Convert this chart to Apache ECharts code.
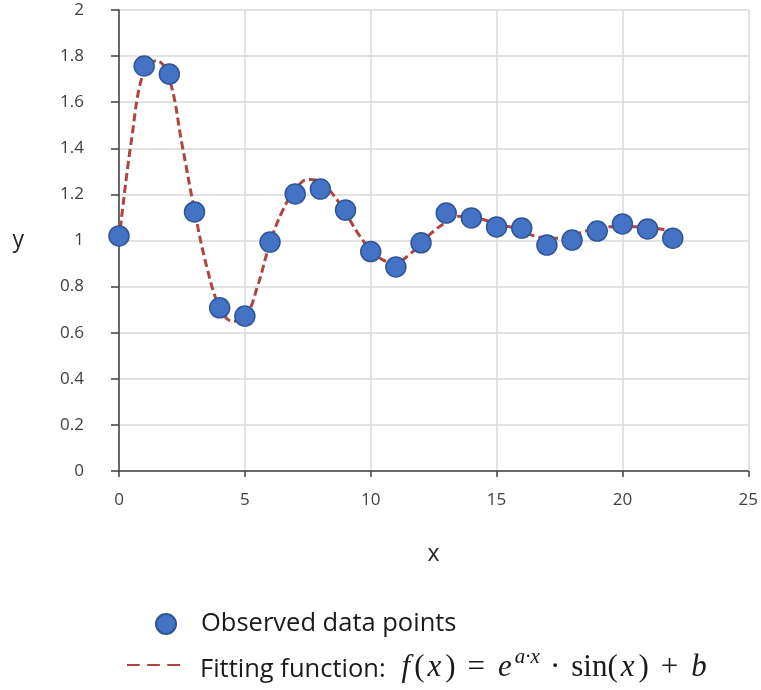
<!DOCTYPE html>
<html>
<head>
<meta charset="utf-8">
<script src="https://cdn.jsdelivr.net/npm/echarts@6/dist/echarts.min.js"></script>
<style>
html,body{margin:0;padding:0;background:#fff;}
#chart{width:761px;height:690px;}
</style>
</head>
<body>
<div id="chart"></div>
<script>
// Observed data points
const obsX = [0,1,2,3,4,5,6,7,8,9,10,11,12,13,14,15,16,17,18,19,20,21,22];
const obsY = [1.02,1.757,1.722,1.124,0.708,0.672,0.993,1.202,1.223,1.132,0.952,0.885,0.99,1.119,1.098,1.059,1.054,0.98,1.002,1.041,1.072,1.05,1.01];
// Fitting curve
const fitX = [0,0.5,1,1.5,2,2.5,3,3.5,4,4.5,5,5.5,6,6.5,7,7.5,8,8.5,9,9.5,10,10.5,11,11.5,12,12.5,13,13.5,14,14.5,15,15.5,16,16.5,17,17.5,18,18.5,19,19.5,20,20.5,21,21.5,22];
const fitY = [1.0,1.44,1.74,1.78,1.70,1.42,1.13,0.88,0.71,0.65,0.665,0.80,0.99,1.13,1.22,1.265,1.255,1.20,1.12,1.03,0.96,0.915,0.905,0.935,0.99,1.04,1.08,1.105,1.10,1.09,1.07,1.06,1.04,1.02,1.01,1.01,1.02,1.04,1.05,1.06,1.06,1.06,1.055,1.05,1.04];
// Axis ticks
const xTickMin = 0, xTickMax = 25, xTickStep = 5;
const yTickMin = 0, yTickMax = 2, yTickStep = 0.2;

const obsName = 'Observed data points';
const fitName = 'Fitting function';

const chart = echarts.init(document.getElementById('chart'));
const sans = '"Open Sans", "Liberation Sans", sans-serif';
const serif = '"Liberation Serif", "DejaVu Serif", serif';
const axisColor = '#404040';
const gridColor = '#d9d9d9';
const txt = '#1a1a1a';
const fs = 31;

function tok(extra) {
  return Object.assign({fontFamily: serif, fontSize: fs, color: txt, verticalAlign: 'bottom', lineHeight: 36}, extra);
}

chart.setOption({
  animation: false,
  backgroundColor: '#ffffff',
  grid: {left: 119, right: 12, top: 10, bottom: 219, containLabel: false},
  xAxis: {
    type: 'value', min: xTickMin, max: xTickMax, interval: xTickStep,
    name: 'x', nameLocation: 'middle', nameGap: 72,
    nameTextStyle: {fontFamily: sans, fontSize: 23, color: '#262626'},
    axisLine: {show: true, onZero: false, lineStyle: {color: axisColor, width: 1.5}},
    axisTick: {show: true, length: 6, lineStyle: {color: axisColor, width: 1.5}},
    axisLabel: {fontFamily: sans, fontSize: 17, color: '#404040', margin: 21},
    splitLine: {show: true, lineStyle: {color: gridColor, width: 1.5}}
  },
  yAxis: {
    type: 'value', min: yTickMin, max: yTickMax, interval: yTickStep,
    name: 'y', nameLocation: 'middle', nameGap: 95, nameRotate: 0,
    nameTextStyle: {fontFamily: sans, fontSize: 23, color: '#262626'},
    axisLine: {show: true, onZero: false, lineStyle: {color: axisColor, width: 1.5}},
    axisTick: {show: true, length: 8, lineStyle: {color: axisColor, width: 1.5}},
    axisLabel: {fontFamily: sans, fontSize: 17, color: '#404040', margin: 35,
      formatter: v => String(Math.round(v * 10) / 10)},
    splitLine: {show: true, lineStyle: {color: gridColor, width: 1.5}}
  },
  legend: [
    {
      data: [{name: obsName, icon: 'circle'}],
      left: 155, top: 611, padding: 0, itemWidth: 20, itemHeight: 20, itemGap: 0,
      textStyle: {fontFamily: sans, fontSize: 25.5, color: txt, padding: [0,0,0,20]},
      selectedMode: false
    },
    {
      data: [{name: fitName, icon: 'path://M0,0h12v2h-12zM19,0h12v2h-12zM38,0h12v2h-12z'}],
      left: 127, top: 647, padding: 0, itemWidth: 53, itemHeight: 3, itemGap: 0,
      selectedMode: false,
      formatter: function () {
        return '{t|Fitting function:}{f|f}{r|(}{x|x}{r|)}{eq|=}{e|e}{s|a·x}{d|·}{sin|sin}{r|(}{x|x}{r|)}{pl|+}{b|b}';
      },
      textStyle: {
        padding: [0,0,0,15],
        rich: {
          t: {fontFamily: sans, fontSize: 25.5, color: txt, verticalAlign: 'bottom', lineHeight: 36, padding: [0,14,0,0]},
          f: tok({fontStyle: 'italic', padding: [0,4,0,2]}),
          x: tok({fontStyle: 'italic', padding: [0,4,0,3]}),
          r: tok({}),
          eq: tok({padding: [0,13,0,12]}),
          e: tok({fontStyle: 'italic'}),
          s: {fontFamily: serif, fontStyle: 'italic', fontSize: 21, color: txt, verticalAlign: 'top', lineHeight: 18, padding: [0,10,0,3]},
          d: tok({padding: [0,11,0,0]}),
          sin: tok({}),
          pl: tok({padding: [0,13,0,12]}),
          b: tok({fontStyle: 'italic'})
        }
      }
    }
  ],
  series: [
    {
      name: fitName, type: 'line', smooth: 0.4, showSymbol: false, symbol: 'none',
      data: fitX.map((x, i) => [x, fitY[i]]),
      lineStyle: {color: '#b0443f', width: 3, type: [8, 4]},
      itemStyle: {color: '#b0443f'},
      z: 2, silent: true
    },
    {
      name: obsName, type: 'scatter', symbol: 'circle', symbolSize: 20,
      data: obsX.map((x, i) => [x, obsY[i]]),
      itemStyle: {color: '#4472c4', borderColor: '#2f5597', borderWidth: 1.5, opacity: 1},
      z: 3, silent: true
    }
  ]
});
</script>
</body>
</html>
